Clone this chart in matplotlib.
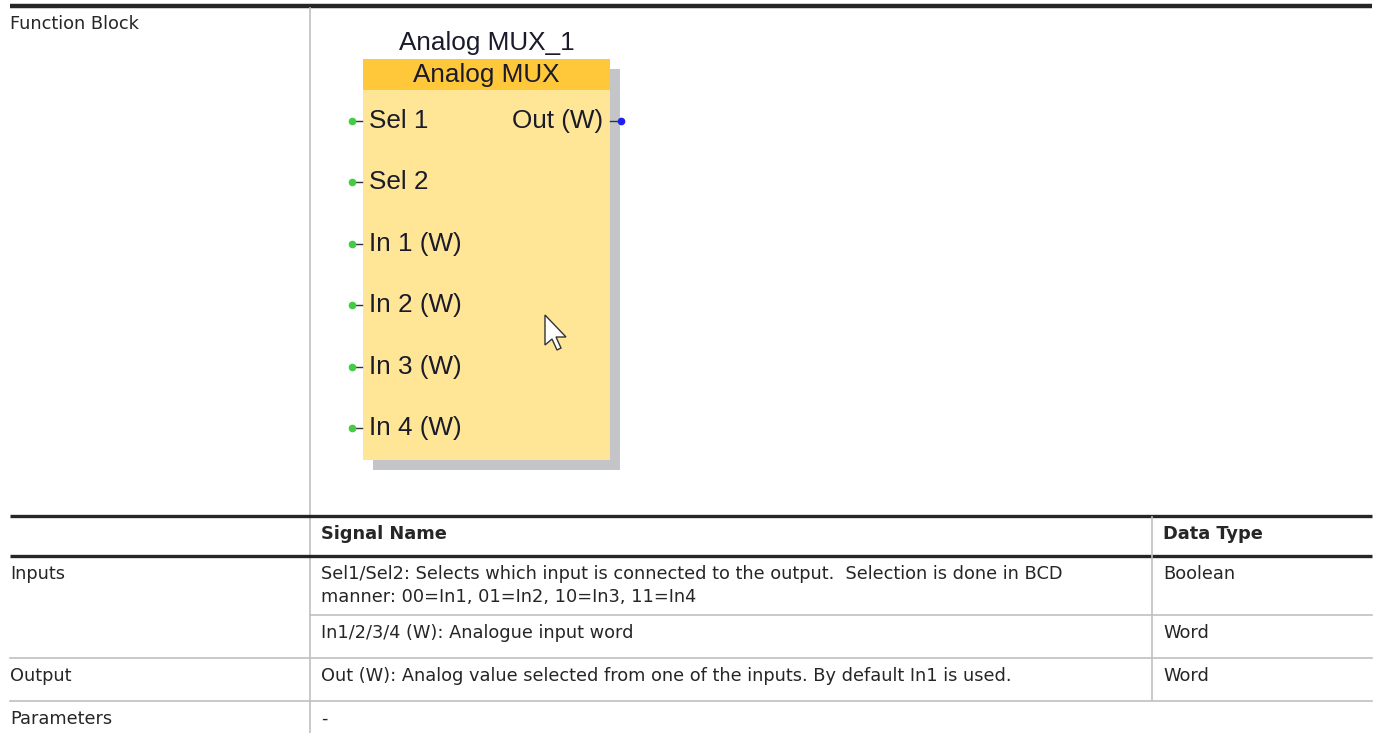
import matplotlib

matplotlib.use("Agg")
import matplotlib.pyplot as plt
from matplotlib.patches import Rectangle, Polygon

W, H = 1376, 733

block_title = "Analog MUX_1"
block_type = "Analog MUX"
input_pins = ["Sel 1", "Sel 2", "In 1 (W)", "In 2 (W)", "In 3 (W)", "In 4 (W)"]
output_pins = ["Out (W)"]

header_cols = ["", "Signal Name", "Data Type"]
row_labels = ["Inputs", "", "Output", "Parameters"]
signal_names = [
    "Sel1/Sel2: Selects which input is connected to the output.  Selection is done in BCD\nmanner: 00=In1, 01=In2, 10=In3, 11=In4",
    "In1/2/3/4 (W): Analogue input word",
    "Out (W): Analog value selected from one of the inputs. By default In1 is used.",
    "-",
]
data_types = ["Boolean", "Word", "Word", ""]

TXT = "#262626"
GRID = "#c0c0c4"
DARK = "#262626"
TFONT = ["DejaVu Sans"]
TSIZE = 12.8
BFONT = ["Liberation Sans", "DejaVu Sans"]
BSIZE = 18.8
BTXT = "#1a1a2a"

fig = plt.figure(figsize=(W / 100, H / 100), dpi=100)
ax = fig.add_axes([0, 0, 1, 1])
ax.set_xlim(0, W)
ax.set_ylim(H, 0)
ax.axis("off")

x0, x1, x2, x3 = 10, 310, 1152, 1372

# table rules
ax.plot([x0, x3], [6, 6], color=DARK, lw=3.2, solid_capstyle="butt")
ax.plot([x1, x1], [8, H], color=GRID, lw=1.2)
ax.plot([x0, x3], [516, 516], color=DARK, lw=2.4, solid_capstyle="butt")
ax.plot([x0, x3], [556, 556], color=DARK, lw=2.4, solid_capstyle="butt")
ax.plot([x2, x2], [517, 700], color=GRID, lw=1.2)
ax.plot([x1, x3], [615, 615], color=GRID, lw=1.2)
ax.plot([x0, x3], [658, 658], color=GRID, lw=1.2)
ax.plot([x0, x3], [701, 701], color=GRID, lw=1.2)

ax.text(x0, 24, "Function Block", fontsize=TSIZE, family=TFONT, color=TXT, va="center")

# header
for cx, label in zip([x0, x1 + 11, x2 + 11], header_cols):
    ax.text(cx, 534, label, fontsize=TSIZE, family=TFONT, color=TXT, va="center", weight="bold")

# body rows
row_y = [574, 633, 676, 719]
for ry, lab in zip(row_y, row_labels):
    if lab:
        ax.text(x0, ry, lab, fontsize=TSIZE, family=TFONT, color=TXT, va="center")
for ry, sig, dt in zip(row_y, signal_names, data_types):
    for k, line in enumerate(sig.split("\n")):
        ax.text(x1 + 11, ry + 23 * k, line, fontsize=TSIZE, family=TFONT, color=TXT, va="center")
    ax.text(x2 + 11, ry, dt, fontsize=TSIZE, family=TFONT, color=TXT, va="center")

# function block
bx, by, bw, bh = 363, 59, 247, 401
ax.add_patch(Rectangle((bx + 10, by + 10), bw, bh, facecolor="#c3c5c8", edgecolor="none"))
ax.add_patch(Rectangle((bx, by), bw, bh, facecolor="#ffe696", edgecolor="none"))
ax.add_patch(Rectangle((bx, by), bw, 31, facecolor="#ffc83a", edgecolor="none"))
ax.text(bx + bw / 2, 43, block_title, fontsize=BSIZE, family=BFONT, color=BTXT, ha="center", va="center")
ax.text(bx + bw / 2, 75, block_type, fontsize=BSIZE, family=BFONT, color=BTXT, ha="center", va="center")

pin_y0, pin_dy = 121, 61.4
for i, name in enumerate(input_pins):
    py = pin_y0 + i * pin_dy
    ax.plot([352, 362], [py, py], color="#333333", lw=1)
    ax.plot([352], [py], "o", color="#44cc44", ms=4.5)
    ax.text(369, py, name, fontsize=BSIZE, family=BFONT, color=BTXT, va="center")
for i, name in enumerate(output_pins):
    py = pin_y0 + i * pin_dy
    ax.plot([610, 621], [py, py], color="#333333", lw=1)
    ax.plot([621], [py], "o", color="#1f1fee", ms=4.5)
    ax.text(603, py, name, fontsize=BSIZE, family=BFONT, color=BTXT, va="center", ha="right")

# mouse cursor
cur = [(545, 315), (545, 345), (552, 339), (557, 350), (561, 348), (556, 337), (566, 337)]
ax.add_patch(Polygon(cur, closed=True, facecolor="white", edgecolor="#333333", lw=1))

fig.savefig("out.png", dpi=100)
